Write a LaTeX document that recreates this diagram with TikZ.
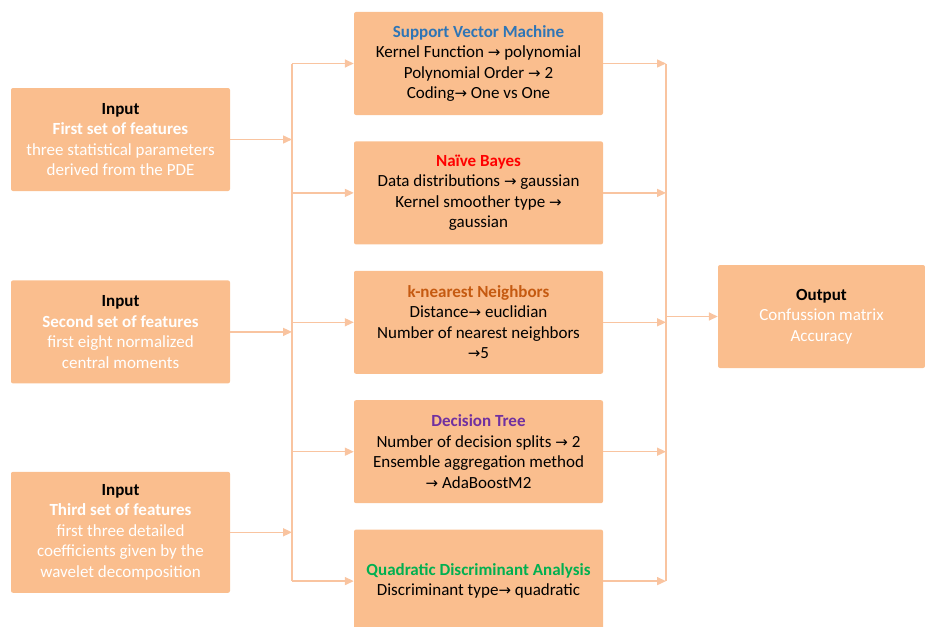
\documentclass[tikz,border=0pt]{standalone}
\usepackage{fontspec}
\setmainfont{Carlito}
\newfontfamily\symfont{DejaVu Sans}
\usetikzlibrary{positioning,arrows.meta}

\definecolor{boxfill}{RGB}{250,190,142}
\definecolor{linkline}{RGB}{249,196,160}
\definecolor{svmblue}{RGB}{46,117,182}
\definecolor{nbred}{RGB}{255,0,0}
\definecolor{knnbrown}{RGB}{197,90,17}
\definecolor{dtpurple}{RGB}{112,48,160}
\definecolor{qdagreen}{RGB}{0,176,80}
\newcommand{\rarr}{{\symfont\fontsize{15}{20.5}\selectfont →}}

\begin{document}
\begin{tikzpicture}[
    x=1pt, y=-1pt,
    node distance = 26pt,
    box/.style={fill=boxfill, rounded corners=2pt, align=center, minimum height=103pt,
      inner sep=2pt, font=\fontsize{17}{20.5}\selectfont},
    inbox/.style={box, minimum width=219pt, text=white},
    algbox/.style={box, minimum width=249pt},
    outbox/.style={box, minimum width=207pt, text=white},
    link/.style={draw=linkline, line width=1.5pt},
    arrow/.style={link, -{Triangle[length=9pt,width=8pt]}},
  ]
  \useasboundingbox (0,0) rectangle (925,626);

  % classifiers
  \node[algbox] (svm) at (478.5,63.5) {\textcolor{svmblue}{\bfseries Support Vector Machine}\\
    Kernel Function \rarr{} polynomial\\ Polynomial Order \rarr{} 2\\ Coding\rarr{} One vs One};
  \node[algbox] (nb) [below=of svm] {\textcolor{nbred}{\bfseries Naïve Bayes}\\
    Data distributions \rarr{} gaussian\\ Kernel smoother type \rarr{}\\ gaussian};
  \node[algbox] (knn) [below=of nb] {\textcolor{knnbrown}{\bfseries k-nearest Neighbors}\\
    Distance\rarr{} euclidian\\ Number of nearest neighbors\\ \rarr{}5};
  \node[algbox] (dt) [below=of knn] {\textcolor{dtpurple}{\bfseries Decision Tree}\\
    Number of decision splits \rarr{} 2\\ Ensemble aggregation method\\ \rarr{} AdaBoostM2};
  \node[algbox] (qda) [below=of dt] {\textcolor{qdagreen}{\bfseries Quadratic Discriminant Analysis}\\
    Discriminant type\rarr{} quadratic};

  \node[inbox] (in1) at (120.5,139.5) {\textcolor{black}{\bfseries Input}\\ \textbf{First set of features}\\
    three statistical parameters\\ derived from the PDE};
  \node[inbox] (in2) [below=89pt of in1] {\textcolor{black}{\bfseries Input}\\ \textbf{Second set of features}\\
    first eight normalized\\ central moments};
  \node[inbox, minimum height=121pt] (in3) [below=88pt of in2] {\textcolor{black}{\bfseries Input}\\
    \textbf{Third set of features}\\ first three detailed\\ coefficients given by the\\ wavelet decomposition};

  \node[outbox] (out) at (821.5,316.5) {\textcolor{black}{\bfseries Output}\\ Confussion matrix\\ Accuracy};

  \coordinate (lbus) at (292,0);
  \coordinate (rbus) at (666,0);

  \draw[link] (svm.west -| lbus) -- (qda.west -| lbus);
  \draw[link] (svm.east -| rbus) -- (qda.east -| rbus);
  \foreach \i in {in1,in2,in3}
    \draw[arrow] (\i.east) -- (\i.east -| lbus);
  \foreach \m in {svm,nb,knn,dt,qda} {
    \draw[arrow] (\m.west -| lbus) -- (\m.west);
    \draw[arrow] (\m.east) -- (\m.east -| rbus);
  }
  \draw[arrow] (out.west -| rbus) -- (out.west);
\end{tikzpicture}
\end{document}
